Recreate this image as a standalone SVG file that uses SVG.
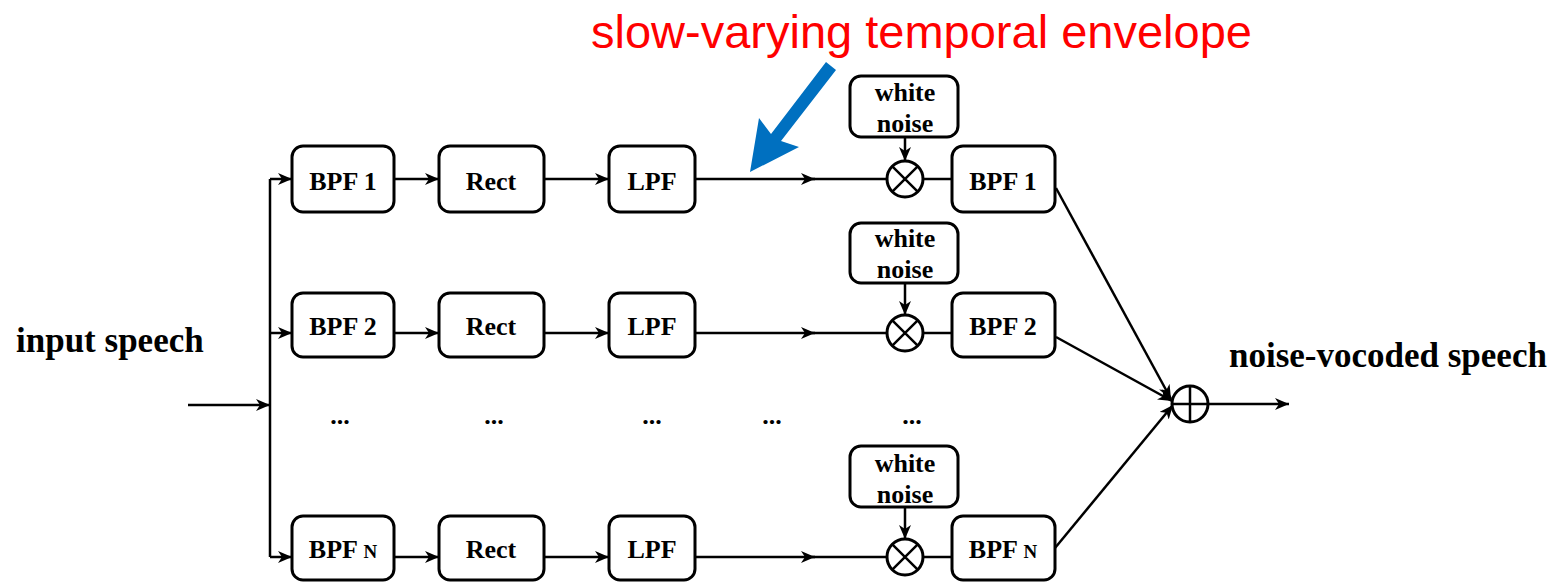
<svg xmlns="http://www.w3.org/2000/svg" width="1568" height="582" viewBox="0 0 1568 582">
<style>
.box{fill:#fff;stroke:#000;stroke-width:3}
.ln{fill:none;stroke:#000;stroke-width:2.5}
.t{font-family:"Liberation Serif","Times New Roman",serif;font-weight:bold;font-size:26px;fill:#000;text-anchor:middle}
.lbl{font-family:"Liberation Serif","Times New Roman",serif;font-weight:bold;font-size:35px;fill:#000}
.red{font-family:"Liberation Sans",Arial,sans-serif;font-size:47px;fill:#ff0000}
.op{fill:#fff;stroke:#000;stroke-width:3}
</style>
<defs>
<marker id="ah" markerUnits="userSpaceOnUse" markerWidth="14" markerHeight="12" refX="14" refY="6" orient="auto">
<path d="M0,0 L14,6 L0,12 L4,6 z" fill="#000"/>
</marker>
</defs>
<rect width="1568" height="582" fill="#fff"/>

<g id="connectors">
<line class="ln" x1="188" y1="405" x2="270" y2="405" marker-end="url(#ah)"/>
<line class="ln" x1="270" y1="179" x2="270" y2="557"/>
<line class="ln" x1="270" y1="179" x2="292" y2="179" marker-end="url(#ah)"/>
<line class="ln" x1="270" y1="333" x2="292" y2="333" marker-end="url(#ah)"/>
<line class="ln" x1="270" y1="557" x2="292" y2="557" marker-end="url(#ah)"/>

<line class="ln" x1="394" y1="179" x2="439" y2="179" marker-end="url(#ah)"/>
<line class="ln" x1="544" y1="179" x2="609" y2="179" marker-end="url(#ah)"/>
<line class="ln" x1="695" y1="179" x2="815" y2="179" marker-end="url(#ah)"/>
<line class="ln" x1="812" y1="179" x2="887" y2="179"/>
<line class="ln" x1="923" y1="179" x2="952" y2="179"/>
<line class="ln" x1="905" y1="137" x2="905" y2="161" marker-end="url(#ah)"/>

<line class="ln" x1="394" y1="333" x2="439" y2="333" marker-end="url(#ah)"/>
<line class="ln" x1="544" y1="333" x2="609" y2="333" marker-end="url(#ah)"/>
<line class="ln" x1="695" y1="333" x2="815" y2="333" marker-end="url(#ah)"/>
<line class="ln" x1="812" y1="333" x2="887" y2="333"/>
<line class="ln" x1="923" y1="333" x2="952" y2="333"/>
<line class="ln" x1="905" y1="283" x2="905" y2="315" marker-end="url(#ah)"/>

<line class="ln" x1="394" y1="557" x2="439" y2="557" marker-end="url(#ah)"/>
<line class="ln" x1="544" y1="557" x2="609" y2="557" marker-end="url(#ah)"/>
<line class="ln" x1="695" y1="557" x2="815" y2="557" marker-end="url(#ah)"/>
<line class="ln" x1="812" y1="557" x2="887" y2="557"/>
<line class="ln" x1="923" y1="557" x2="952" y2="557"/>
<line class="ln" x1="905" y1="507" x2="905" y2="539" marker-end="url(#ah)"/>

<line class="ln" x1="1056" y1="188" x2="1171" y2="399" marker-end="url(#ah)"/>
<line class="ln" x1="1056" y1="337" x2="1172" y2="401" marker-end="url(#ah)"/>
<line class="ln" x1="1055" y1="548" x2="1173" y2="405" marker-end="url(#ah)"/>
<line class="ln" x1="1208" y1="404" x2="1289" y2="404" marker-end="url(#ah)"/>
</g>

<g id="row1">
<g id="bpf1"><rect class="box" x="292" y="146" width="102" height="66" rx="11"/><text class="t" x="343" y="190">BPF 1</text></g>
<g id="rect1"><rect class="box" x="439" y="146" width="105" height="66" rx="11"/><text class="t" x="491" y="190">Rect</text></g>
<g id="lpf1"><rect class="box" x="609" y="146" width="86" height="66" rx="11"/><text class="t" x="652" y="190">LPF</text></g>
<g id="noise1"><rect class="box" x="850" y="76" width="108" height="61" rx="11"/><text class="t" x="905" y="101">white</text><text class="t" x="905" y="132">noise</text></g>
<g id="mul1"><circle class="op" cx="905" cy="179" r="18"/><path class="ln" d="M892.3,166.3 L917.7,191.7 M917.7,166.3 L892.3,191.7"/></g>
<g id="obpf1"><rect class="box" x="952" y="146" width="103" height="66" rx="11"/><text class="t" x="1003" y="190">BPF 1</text></g>
</g>

<g id="row2">
<g id="bpf2"><rect class="box" x="292" y="293" width="102" height="64" rx="11"/><text class="t" x="343" y="335">BPF 2</text></g>
<g id="rect2"><rect class="box" x="439" y="293" width="105" height="64" rx="11"/><text class="t" x="491" y="335">Rect</text></g>
<g id="lpf2"><rect class="box" x="609" y="293" width="86" height="64" rx="11"/><text class="t" x="652" y="335">LPF</text></g>
<g id="noise2"><rect class="box" x="850" y="223" width="108" height="60" rx="11"/><text class="t" x="905" y="247">white</text><text class="t" x="905" y="278">noise</text></g>
<g id="mul2"><circle class="op" cx="905" cy="333" r="18"/><path class="ln" d="M892.3,320.3 L917.7,345.7 M917.7,320.3 L892.3,345.7"/></g>
<g id="obpf2"><rect class="box" x="952" y="293" width="103" height="64" rx="11"/><text class="t" x="1003" y="335">BPF 2</text></g>
</g>

<g id="dots">
<text class="t" x="340" y="424">...</text>
<text class="t" x="494" y="424">...</text>
<text class="t" x="652" y="424">...</text>
<text class="t" x="772" y="424">...</text>
<text class="t" x="912" y="424">...</text>
</g>

<g id="rowN">
<g id="bpfN"><rect class="box" x="292" y="516" width="102" height="64" rx="11"/><text class="t" x="343" y="558">BPF <tspan font-size="19">N</tspan></text></g>
<g id="rectN"><rect class="box" x="439" y="516" width="105" height="64" rx="11"/><text class="t" x="491" y="558">Rect</text></g>
<g id="lpfN"><rect class="box" x="609" y="516" width="86" height="64" rx="11"/><text class="t" x="652" y="558">LPF</text></g>
<g id="noiseN"><rect class="box" x="850" y="446" width="108" height="61" rx="11"/><text class="t" x="905" y="472">white</text><text class="t" x="905" y="503">noise</text></g>
<g id="mulN"><circle class="op" cx="905" cy="557" r="18"/><path class="ln" d="M892.3,544.3 L917.7,569.7 M917.7,544.3 L892.3,569.7"/></g>
<g id="obpfN"><rect class="box" x="952" y="516" width="103" height="64" rx="11"/><text class="t" x="1003" y="558">BPF <tspan font-size="19">N</tspan></text></g>
</g>

<g id="sum"><circle class="op" cx="1190" cy="404" r="18"/><path class="ln" d="M1172,404 L1208,404 M1190,386 L1190,422"/></g>

<g id="labels">
<text class="lbl" x="16" y="352">input speech</text>
<text class="lbl" x="1229" y="367">noise-vocoded speech</text>
<text class="red" x="591" y="48">slow-varying temporal envelope</text>
</g>

<g id="pointer">
<polygon fill="#0070C0" points="826,62 836,70 781,141 799,147 750,172 759,118 771,134"/>
</g>
</svg>
